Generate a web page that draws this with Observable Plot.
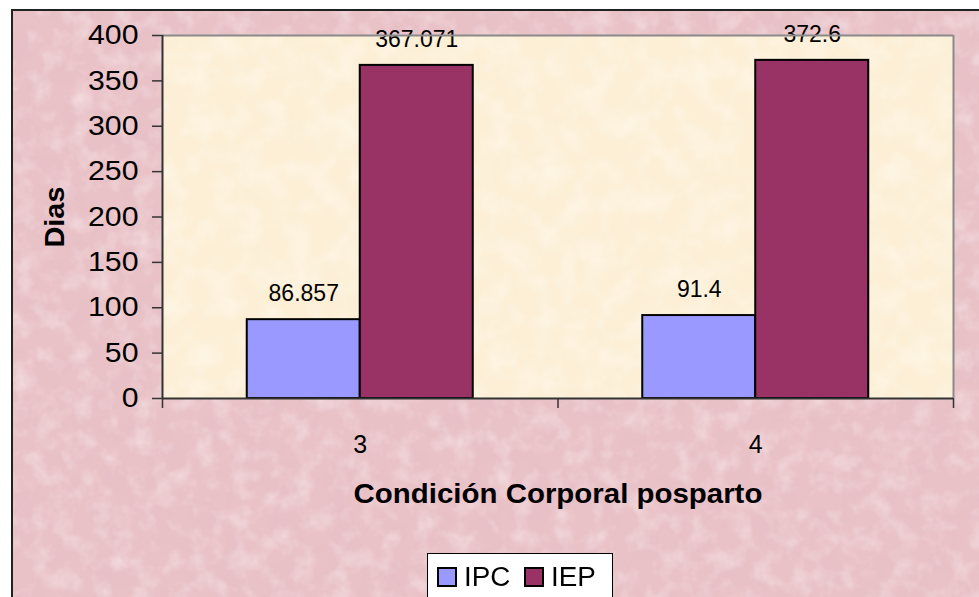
<!DOCTYPE html>
<html><head><meta charset="utf-8">
<script src="https://cdn.jsdelivr.net/npm/d3@7"></script>
<script src="https://cdn.jsdelivr.net/npm/@observablehq/plot@0.6"></script>
<style>
html,body{margin:0;padding:0;background:#fff;}
#wrap{position:relative;width:979px;height:597px;overflow:hidden;font-family:Arial,"Liberation Sans",sans-serif;}
#bg{position:absolute;left:11px;top:9px;width:1000px;height:700px;border-left:2px solid #222;border-top:2px solid #222;
 background-color:#e9c2c7;
 background-image:url("data:image/svg+xml;utf8,<svg xmlns='http://www.w3.org/2000/svg' width='1000' height='700'><filter id='n'><feTurbulence type='fractalNoise' baseFrequency='0.035' numOctaves='4' seed='3' stitchTiles='stitch'/><feColorMatrix values='0 0 0 0 0.78  0 0 0 0 0.52  0 0 0 0 0.57  0 0 0 1.1 -0.42'/></filter><filter id='m'><feTurbulence type='fractalNoise' baseFrequency='0.05' numOctaves='3' seed='9' stitchTiles='stitch'/><feColorMatrix values='0 0 0 0 0.96  0 0 0 0 0.85  0 0 0 0 0.87  0 0 0 1.1 -0.5'/></filter><rect width='100%' height='100%' filter='url(%23n)'/><rect width='100%' height='100%' filter='url(%23m)'/></svg>");}
#cream{position:absolute;left:162px;top:35px;width:791px;height:363px;
 background-image:url("data:image/svg+xml;utf8,<svg xmlns='http://www.w3.org/2000/svg' width='791' height='363'><filter id='c'><feTurbulence type='fractalNoise' baseFrequency='0.04' numOctaves='3' seed='5' stitchTiles='stitch'/><feColorMatrix values='0 0 0 0 1  0 0 0 0 0.99  0 0 0 0 0.95  0 0 0 0.8 -0.32'/></filter><rect width='100%' height='100%' fill='%23fcefd6'/><rect width='100%' height='100%' filter='url(%23c)'/></svg>");}
#chart{position:absolute;left:0;top:0;}
#legend{position:absolute;left:427px;top:553px;width:186px;height:60px;background:#fff;border:1px solid #000;box-sizing:border-box;
 display:flex;align-items:flex-start;padding:12px 0 0 9px;font-size:27px;line-height:22px;color:#000;}
.item{display:flex;align-items:center;margin-right:15px;}
.sw{width:16px;height:16px;border:2px solid #000;margin-right:7px;}
.item span{display:inline-block;transform:scaleX(1.03);transform-origin:left center;}
</style></head>
<body>
<div id="wrap"><div id="bg"></div><div id="cream"></div><div id="chart"></div><div id="legend"></div></div>
<script>
const categories = ["3", "4"];
const series = ["IPC", "IEP"];
const ipcValues = [86.857, 91.4];
const iepValues = [367.071, 372.6];
const seriesColors = ["#9999ff", "#993366"];
const yTicks = [0, 50, 100, 150, 200, 250, 300, 350, 400];
const yTitle = "Dias";
const xTitle = "Condición Corporal posparto";
const gapWidth = 1.5; // Excel gap width (150%)

const valuesBySeries = [ipcValues, iepValues];
const barW = 1 / (series.length + gapWidth);
const table = [];
categories.forEach((c, i) => series.forEach((s, j) => {
  const x1 = i + (gapWidth / 2) * barW + j * barW;
  table.push({cat: c, serie: s, value: valuesBySeries[j][i], x1, x2: x1 + barW});
}));

const font = "Arial, 'Liberation Sans', sans-serif";
const chart = Plot.plot({
  width: 979, height: 597,
  marginLeft: 162, marginRight: 26, marginTop: 35, marginBottom: 199,
  style: {background: "transparent", fontFamily: font, overflow: "visible", color: "#000"},
  x: {domain: [0, categories.length], axis: null},
  y: {domain: [0, 400], axis: null},
  color: {domain: series, range: seriesColors},
  marks: [
    Plot.rectY(table, {x1: "x1", x2: "x2", y: "value", fill: "serie", stroke: "#000", strokeWidth: 2}),
    Plot.text(table, {x: d => (d.x1 + d.x2) / 2, y: "value", text: d => String(d.value), dy: -26, fontSize: 23, fill: "#000"}),
    Plot.ruleY([400], {stroke: "#8a8a8a", strokeWidth: 2}),
    Plot.ruleX([categories.length], {stroke: "#8a8a8a", strokeWidth: 2}),
    Plot.axisY({ticks: yTicks, tickSize: 10, tickPadding: 14, fontSize: 27, stroke: "#333", strokeWidth: 1.5, label: null, tickFormat: d => String(d)}),
    Plot.axisX({ticks: d3.range(categories.length + 1), tickSize: 10, tickFormat: () => "", label: null, stroke: "#333", strokeWidth: 1.5}),
    Plot.axisX({ticks: categories.map((c, i) => i + 0.5), tickSize: 0, tickPadding: 37, tickFormat: d => categories[Math.floor(d)], fontSize: 25, label: null}),
    Plot.ruleX([0], {stroke: "#333", strokeWidth: 2}),
    Plot.ruleY([0], {stroke: "#333", strokeWidth: 2}),
    Plot.text([yTitle], {frameAnchor: "left", textAnchor: "middle", lineAnchor: "middle", rotate: -90, dx: -107, fontSize: 27, fontWeight: "bold", fill: "#000"}),
    Plot.text([xTitle], {frameAnchor: "bottom", textAnchor: "middle", lineAnchor: "middle", dy: 96, fontSize: 27, fontWeight: "bold", fill: "#000"})
  ]
});
document.getElementById("chart").appendChild(chart);

// the reference's lettering is slightly wider than Arial: stretch glyphs a little
function stretch(pred, f) {
  d3.select(chart).selectAll("text").filter(function () { return pred(this.textContent); }).each(function () {
    const L = this.getComputedTextLength();
    if (L > 0) { this.setAttribute("textLength", (L * f).toFixed(1)); this.setAttribute("lengthAdjust", "spacingAndGlyphs"); }
  });
}
const tickStrings = yTicks.map(String);
stretch(t => tickStrings.includes(t), 1.12);
stretch(t => t === xTitle, 1.09);
stretch(t => t === yTitle, 1.07);

const legend = document.getElementById("legend");
series.forEach((s, j) => {
  const item = document.createElement("div");
  item.className = "item";
  const sw = document.createElement("div");
  sw.className = "sw";
  sw.style.background = seriesColors[j];
  const t = document.createElement("span");
  t.textContent = s;
  item.appendChild(sw); item.appendChild(t);
  legend.appendChild(item);
});
</script>
</body></html>
